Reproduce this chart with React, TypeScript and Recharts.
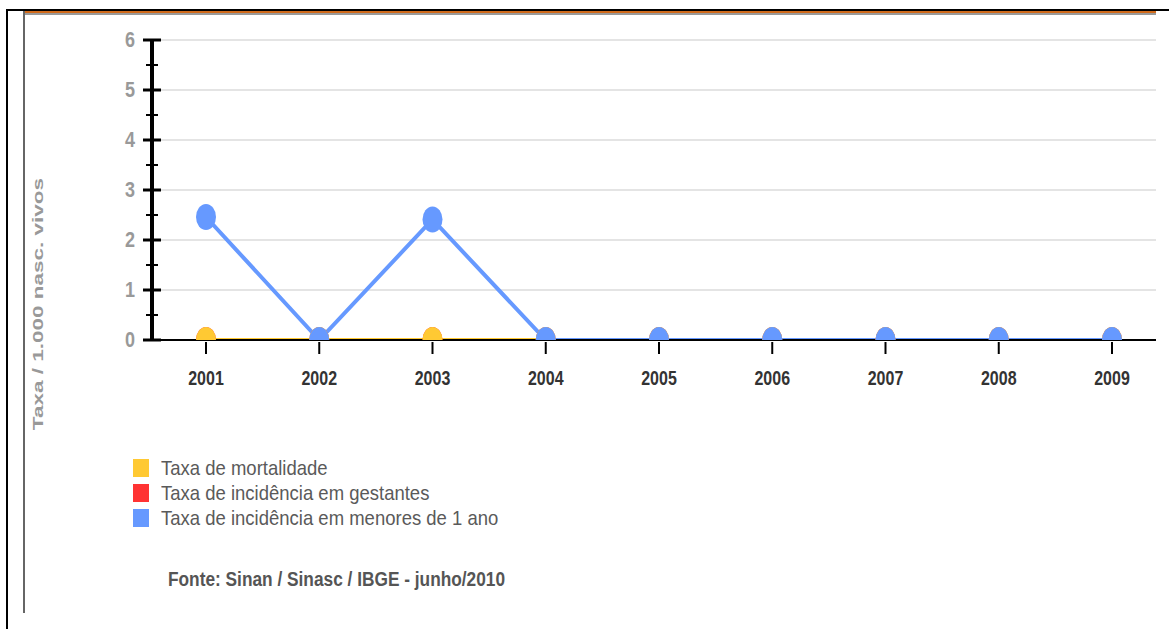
import { LineChart, Line, XAxis, YAxis, CartesianGrid } from "recharts";

const years = ["2001", "2002", "2003", "2004", "2005", "2006", "2007", "2008", "2009"];
const mortalidade = [0, 0, 0, 0, 0, 0, 0, 0, 0];
const gestantes = [0, 0, 0, 0, 0, 0, 0, 0, 0];
const menores = [2.46, 0, 2.41, 0, 0, 0, 0, 0, 0];
const yTicks = [0, 0.5, 1, 1.5, 2, 2.5, 3, 3.5, 4, 4.5, 5, 5.5, 6];
const gridValues = [1, 2, 3, 4, 5, 6];
const yMax = 6;

const legendItems = [
  { label: "Taxa de mortalidade", color: "#FFC933" },
  { label: "Taxa de incidência em gestantes", color: "#FF3333" },
  { label: "Taxa de incidência em menores de 1 ano", color: "#6699FF" },
];

const data = years.map((year, i) => ({
  year,
  mortalidade: mortalidade[i],
  gestantes: gestantes[i],
  menores: menores[i],
}));

const FONT = '"Liberation Sans", Arial, sans-serif';

// chart layout
const CHART_W = 1169;
const CHART_H = 420;
const MARGIN = { top: 40, right: 13, left: 112, bottom: 50 };
const X_AXIS_H = 30;
const PLOT_BOTTOM = CHART_H - MARGIN.bottom - X_AXIS_H;

function YTick(props: any) {
  const { x, y, payload } = props;
  const major = Number.isInteger(payload.value);
  const ax = x + 10;
  return (
    <g>
      {major ? (
        <>
          <line x1={ax - 11} x2={ax + 7} y1={y} y2={y} stroke="#000" strokeWidth={3} />
          <text
            transform={`translate(${ax - 19}, ${y + 7}) scale(1, 1.25)`}
            textAnchor="end"
            fill="#999"
            fontSize={18}
            fontWeight="bold"
            fontFamily={FONT}
          >
            {payload.value}
          </text>
        </>
      ) : (
        <line x1={ax - 8} x2={ax + 4} y1={y} y2={y} stroke="#000" strokeWidth={2} />
      )}
    </g>
  );
}

function XTick(props: any) {
  const { x, y, payload } = props;
  return (
    <g>
      <line x1={x} x2={x} y1={y - 6} y2={y + 6} stroke="#000" strokeWidth={2} />
      <text
        transform={`translate(${x}, ${y + 37}) scale(1, 1.3)`}
        textAnchor="middle"
        fill="#333"
        fontSize={16}
        fontWeight="bold"
        fontFamily={FONT}
      >
        {payload.value}
      </text>
    </g>
  );
}

function makeDot(color: string, name: string) {
  return (props: any) => {
    const { cx, cy, index } = props;
    if (cx == null || cy == null) return <g key={`${name}-${index}`} />;
    const id = `clip-${name}-${index}`;
    const top = cy - 15;
    return (
      <g key={`${name}-${index}`}>
        <defs>
          <clipPath id={id}>
            <rect x={cx - 12} y={top} width={24} height={Math.max(0, PLOT_BOTTOM - top)} />
          </clipPath>
        </defs>
        <ellipse cx={cx} cy={cy} rx={10} ry={13} fill={color} clipPath={`url(#${id})`} />
      </g>
    );
  };
}

export default function App() {
  return (
    <div style={{ position: "absolute", left: 0, top: 0, width: 1169, height: 629, background: "#fff", overflow: "hidden", fontFamily: FONT }}>
      {/* frame */}
      <div style={{ position: "absolute", left: 6, top: 9, width: 2, height: 620, background: "#000" }} />
      <div style={{ position: "absolute", left: 6, top: 9, width: 1163, height: 2, background: "#000" }} />
      <div style={{ position: "absolute", left: 23, top: 11, width: 1133, height: 2, background: "#d06a1a" }} />
      <div style={{ position: "absolute", left: 23, top: 13, width: 1133, height: 2, background: "#999" }} />
      <div style={{ position: "absolute", left: 23, top: 11, width: 2, height: 602, background: "#666" }} />

      <div style={{ position: "absolute", left: 0, top: 0 }}>
        <LineChart width={CHART_W} height={CHART_H} data={data} margin={MARGIN}>
          <CartesianGrid
            vertical={false}
            stroke="#e4e4e4"
            strokeWidth={2}
            horizontalCoordinatesGenerator={({ offset }: any) =>
              gridValues.map((v) => offset.top + offset.height * (1 - v / yMax))
            }
          />
          <XAxis
            dataKey="year"
            padding={{ left: 54, right: 44 }}
            axisLine={{ stroke: "#000", strokeWidth: 2 }}
            tickLine={false}
            tick={<XTick />}
            height={X_AXIS_H}
            interval={0}
          />
          <YAxis
            domain={[0, yMax]}
            ticks={yTicks}
            allowDataOverflow
            width={40}
            interval={0}
            axisLine={{ stroke: "#000", strokeWidth: 4 }}
            tickLine={false}
            tick={<YTick />}
          />
          <Line dataKey="gestantes" stroke="#FF3333" strokeWidth={4} dot={makeDot("#FF3333", "g")} isAnimationActive={false} />
          <Line dataKey="mortalidade" stroke="#FFC933" strokeWidth={4} dot={makeDot("#FFC933", "m")} isAnimationActive={false} />
          <Line dataKey="menores" stroke="#6699FF" strokeWidth={4} dot={makeDot("#6699FF", "b")} isAnimationActive={false} />
        </LineChart>
      </div>

      {/* y axis title */}
      <div
        style={{
          position: "absolute",
          left: 37,
          top: 304,
          transform: "translate(-50%, -50%) rotate(-90deg) scaleX(1.5)",
          whiteSpace: "nowrap",
          color: "#999",
          fontSize: 15,
          fontWeight: "bold",
        }}
      >
        Taxa / 1.000 nasc. vivos
      </div>

      {/* legend */}
      <div style={{ position: "absolute", left: 133, top: 455 }}>
        {legendItems.map((item) => (
          <div key={item.label} style={{ display: "flex", alignItems: "center", height: 25 }}>
            <div style={{ width: 16, height: 18, background: item.color, marginRight: 12 }} />
            <span style={{ color: "#5a5a5a", fontSize: 18.5, display: "inline-block", transform: "scaleY(1.1)" }}>
              {item.label}
            </span>
          </div>
        ))}
      </div>

      <div
        style={{
          position: "absolute",
          left: 168,
          top: 568,
          color: "#555",
          fontSize: 17.3,
          fontWeight: "bold",
          transform: "scaleY(1.12)",
          transformOrigin: "left top",
        }}
      >
        Fonte: Sinan / Sinasc / IBGE - junho/2010
      </div>
    </div>
  );
}
